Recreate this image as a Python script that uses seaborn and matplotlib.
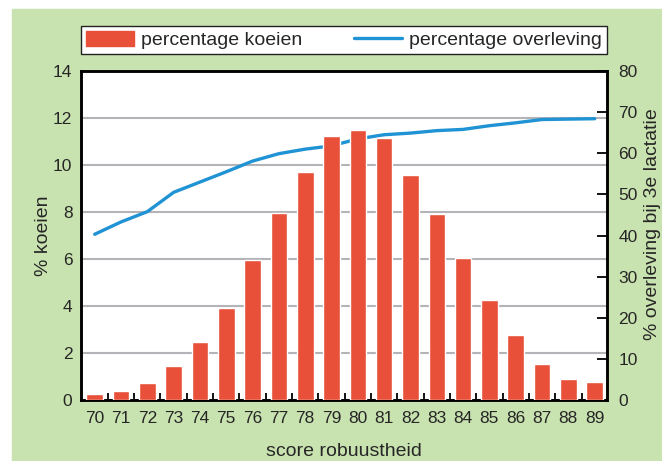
import numpy as np
import seaborn as sns
import matplotlib.pyplot as plt
import matplotlib.patches as mpatches
from matplotlib.lines import Line2D


# data
scores = [70, 71, 72, 73, 74, 75, 76, 77, 78, 79,
          80, 81, 82, 83, 84, 85, 86, 87, 88, 89]
koeien = [0.26, 0.38, 0.72, 1.46, 2.47, 3.91, 5.96, 7.96, 9.70, 11.23,
          11.49, 11.15, 9.57, 7.91, 6.04, 4.26, 2.77, 1.53, 0.89, 0.77]
overleving = [40.3, 43.3, 45.8, 50.5, 53.0, 55.5, 58.1, 59.9, 61.0, 61.8,
              63.5, 64.5, 64.9, 65.5, 65.8, 66.7, 67.4, 68.2, 68.3, 68.4]
labels = ["percentage koeien", "percentage overleving"]

bar_color = "#e8503a"
line_color = "#1f93d4"
green = "#c9e3b0"

sns.set_style("white")
plt.rcParams["font.family"] = ["Liberation Sans", "DejaVu Sans"]

fig = plt.figure(figsize=(6.62, 4.61), dpi=100)
fig.patch.set_facecolor("white")
# green panel behind everything (white strip top and left)
fig.add_artist(mpatches.Rectangle((12 / 662, 0), 1, 1 - 9 / 461,
                                  transform=fig.transFigure, color=green, zorder=-10))

pos = [0.122, 0.1323, 0.795, 0.7137]
ax = fig.add_axes(pos)
ax.set_facecolor("white")
ax_line = ax.twinx()
ax_bars = fig.add_axes(pos, sharex=ax, sharey=ax)
ax_bars.patch.set_visible(False)

# line (right scale), drawn below the bars
sns.lineplot(x=np.arange(len(scores)), y=overleving, ax=ax_line,
             color=line_color, lw=2.4)

# bars (left scale)
sns.barplot(x=scores, y=koeien, ax=ax_bars, color=bar_color,
            saturation=1, width=0.63)
ax_bars.axis("off")

ax.set_xlim(-0.53, 19.47)
ax.set_ylim(0, 14)
ax.set_yticks(range(0, 15, 2))
ax_line.set_ylim(0, 80)
ax_line.set_yticks(range(0, 81, 10))

ax.yaxis.grid(True, color="#b3b3b8", lw=1.5)
ax.xaxis.grid(False)

# ticks
ax.set_xticks(np.arange(len(scores)))
ax.set_xticklabels([str(s) for s in scores])
ax.set_xticks(np.arange(0.5, len(scores) - 1, 1), minor=True)
ax.tick_params(axis="x", which="major", length=0, labelsize=12.5, pad=8)
ax.tick_params(axis="x", which="minor", direction="in", length=5,
               width=1.3, color="black", bottom=True)
ax.tick_params(axis="y", length=0, labelsize=12.5, pad=6)
ax_line.tick_params(axis="y", direction="in", length=7, width=1.3,
                    color="black", labelsize=12.5, pad=8)

for a in (ax, ax_line):
    for sp in a.spines.values():
        sp.set_color("black")
        sp.set_linewidth(1.8)

ax.set_xlabel("score robuustheid", fontsize=14, labelpad=12)
ax.set_ylabel("% koeien", fontsize=14, labelpad=0.5)
ax_line.set_ylabel("% overleving bij 3e lactatie", fontsize=14)
ax_line.yaxis.set_label_coords(1.071, 0.536)

handles = [mpatches.Patch(color=bar_color),
           Line2D([], [], color=line_color, lw=2.4)]
leg = ax_bars.legend(handles, labels, loc="lower left",
                     bbox_to_anchor=(0, 1.052, 1, 0.081), mode="expand",
                     ncol=2, fontsize=14, frameon=True, fancybox=False,
                     edgecolor="#222222", borderaxespad=0, borderpad=0.25,
                     handlelength=2.5, handleheight=0.82, handletextpad=0.36)
leg.get_frame().set_linewidth(1.0)
leg.get_frame().set_facecolor("white")
leg.get_frame().set_alpha(1)

fig.savefig("out.png", dpi=100)
